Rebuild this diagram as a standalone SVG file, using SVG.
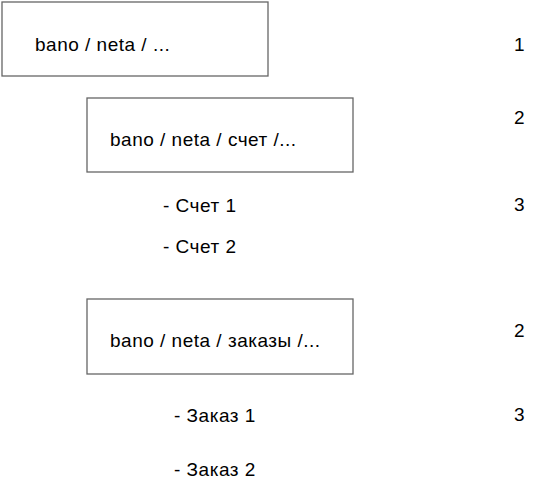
<svg xmlns="http://www.w3.org/2000/svg" width="541" height="488" viewBox="0 0 541 488">
<style>
.box{fill:#fff;stroke:#666;stroke-width:1.3}
text{font-family:"Liberation Sans",Arial,sans-serif;font-size:19px;letter-spacing:0.5px;fill:#000}
</style>
<rect width="541" height="488" fill="#fff"/>
<g id="node1"><rect class="box" x="2" y="2" width="266" height="74"/><text x="35" y="51">bano / neta / ...</text></g>
<g id="node2"><rect class="box" x="87" y="98" width="266" height="74"/><text x="110" y="146">bano / neta / счет  /...</text></g>
<g id="node3"><rect class="box" x="87" y="299" width="266" height="75"/><text x="110" y="347">bano / neta / заказы  /...</text></g>
<g id="items">
<text x="163" y="212">- Счет 1</text>
<text x="163" y="253">- Счет 2</text>
<text x="174" y="422">- Заказ 1</text>
<text x="174" y="476">- Заказ 2</text>
</g>
<g id="levels">
<text x="514" y="51">1</text>
<text x="514" y="124">2</text>
<text x="514" y="211">3</text>
<text x="514" y="337">2</text>
<text x="514" y="421">3</text>
</g>
<g id="connectors"></g>
</svg>
